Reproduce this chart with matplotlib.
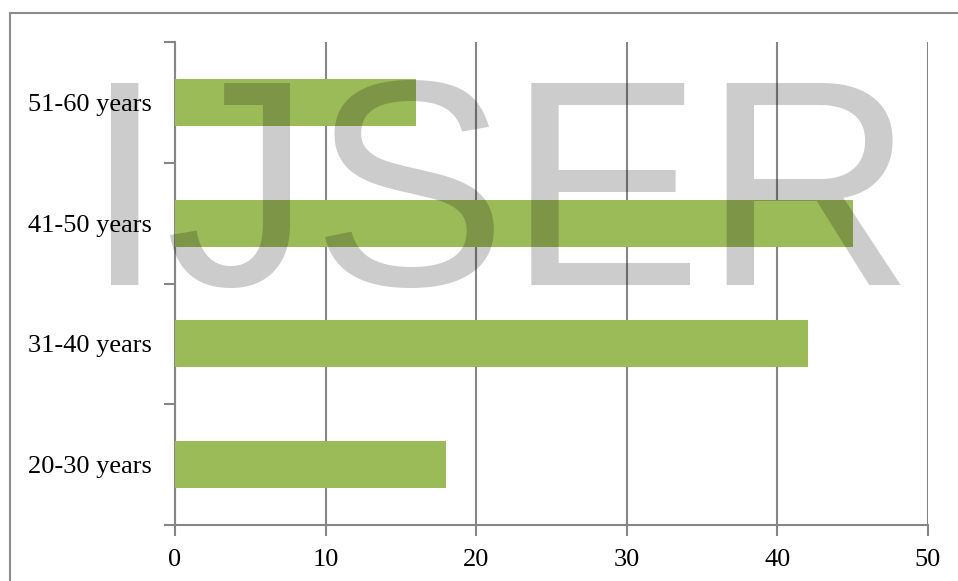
import matplotlib
matplotlib.use("Agg")
import matplotlib.pyplot as plt
from matplotlib.patches import Rectangle

categories = ["20-30 years", "31-40 years", "41-50 years", "51-60 years"]
values = [18, 42, 45, 16]
xticks = [0, 10, 20, 30, 40, 50]

W, H = 958, 581
fig = plt.figure(figsize=(W / 100, H / 100), dpi=100)
fig.patch.set_facecolor("white")

# outer border
fig.patches.append(Rectangle((10 / W, -0.1), 1.2, (H - 13) / H + 0.1,
                             transform=fig.transFigure, fill=False,
                             edgecolor="#8c8c8c", linewidth=1.5, zorder=0))

ax = fig.add_axes([175 / W, (H - 525) / H, (928 - 175) / W, (525 - 42) / H])
ypos = list(range(len(categories)))
ax.barh(ypos, values, height=0.39, color="#9BBB59", zorder=3)
ax.set_xlim(0, 50)
ax.set_ylim(-0.5, len(categories) - 0.5)
ax.set_xticks(xticks)
ax.set_xticklabels([str(t) for t in xticks])
ax.set_yticks(ypos)
ax.set_yticklabels(categories)
ax.set_yticks([i - 0.5 for i in range(len(categories) + 1)], minor=True)
ax.tick_params(axis="y", which="major", length=0, pad=16.5)
ax.tick_params(axis="y", which="minor", length=8, width=1.5, color="#868686")
ax.tick_params(axis="x", length=8, width=1.5, color="#868686", pad=9)
for lab in ax.get_xticklabels() + ax.get_yticklabels():
    lab.set_fontfamily("Liberation Serif")
    lab.set_fontsize(19)
    lab.set_color("black")
ax.grid(axis="x", color="#868686", linewidth=1.5, zorder=1)
ax.set_axisbelow(True)
for s in ["top", "right"]:
    ax.spines[s].set_visible(False)
for s in ["left", "bottom"]:
    ax.spines[s].set_color("#868686")
    ax.spines[s].set_linewidth(1.5)

# watermark
fig.text(84 / W, (H - 285) / H, "IJSER", fontfamily="Liberation Sans",
         fontsize=211, color="black", alpha=0.2, ha="left", va="baseline",
         zorder=10)

fig.savefig("out.png", dpi=100)
